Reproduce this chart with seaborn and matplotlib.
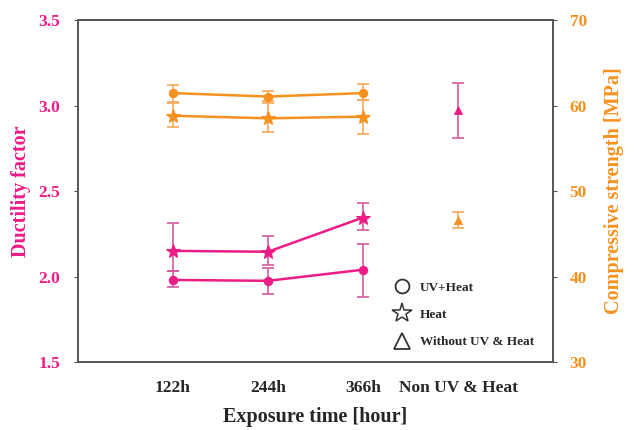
import numpy as np
import pandas as pd
import matplotlib
matplotlib.use("Agg")
import matplotlib.pyplot as plt
import seaborn as sns
from matplotlib.lines import Line2D

# --- data ---
categories = ["122h", "244h", "366h", "Non UV & Heat"]
exposed = ["122h", "244h", "366h"]

# ductility factor (left axis)
duct_uvheat = [1.98, 1.975, 2.04]
duct_uvheat_lo = [1.94, 1.90, 1.88]
duct_uvheat_hi = [2.03, 2.05, 2.19]
duct_heat = [2.15, 2.145, 2.345]
duct_heat_lo = [2.03, 2.07, 2.27]
duct_heat_hi = [2.315, 2.235, 2.43]
duct_none = [2.975]
duct_none_lo = [2.81]
duct_none_hi = [3.13]

# compressive strength (right axis)
comp_uvheat = [61.45, 61.05, 61.45]
comp_uvheat_lo = [60.4, 60.3, 60.6]
comp_uvheat_hi = [62.4, 61.75, 62.5]
comp_heat = [58.8, 58.5, 58.7]
comp_heat_lo = [57.45, 56.95, 56.7]
comp_heat_hi = [60.35, 60.55, 60.7]
comp_none = [46.6]
comp_none_lo = [45.7]
comp_none_hi = [47.6]

PINK = "#ec1c86"
PINK_ERR = "#d45aa0"
ORANGE = "#f7911e"
ORANGE_ERR = "#f5a95a"

sns.set_style("white")
plt.rcParams["font.family"] = ["Liberation Serif", "DejaVu Serif"]
plt.rcParams["font.weight"] = "bold"

fig = plt.figure(figsize=(6.35, 4.3), dpi=100)
ax = fig.add_axes([0.1228, 0.158, 0.7481, 0.7955])
ax2 = ax.twinx()

pos = {c: i for i, c in enumerate(categories)}


def draw(axis, cats, vals, lo, hi, marker, color, ecolor, ms, line=True):
    x = [pos[c] for c in cats]
    df = pd.DataFrame({"x": x, "y": vals})
    v = np.array(vals)
    yerr = [v - np.array(lo), np.array(hi) - v]
    axis.errorbar(x, vals, yerr=yerr, fmt="none", ecolor=ecolor,
                  elinewidth=1.2, capsize=4, capthick=1.2, zorder=2)
    if line:
        sns.lineplot(data=df, x="x", y="y", ax=axis, color=color, lw=1.8,
                     marker=marker, markersize=ms, markeredgecolor=color,
                     legend=False, zorder=3)
    else:
        sns.scatterplot(data=df, x="x", y="y", ax=axis, color=color,
                        marker=marker, s=ms ** 2, edgecolor=color,
                        legend=False, zorder=3)


draw(ax, exposed, duct_uvheat, duct_uvheat_lo, duct_uvheat_hi, "o", PINK, PINK_ERR, 6)
draw(ax, exposed, duct_heat, duct_heat_lo, duct_heat_hi, "*", PINK, PINK_ERR, 10)
draw(ax, ["Non UV & Heat"], duct_none, duct_none_lo, duct_none_hi, "^", PINK, PINK_ERR, 6, line=False)

draw(ax2, exposed, comp_uvheat, comp_uvheat_lo, comp_uvheat_hi, "o", ORANGE, ORANGE_ERR, 6)
draw(ax2, exposed, comp_heat, comp_heat_lo, comp_heat_hi, "*", ORANGE, ORANGE_ERR, 10)
draw(ax2, ["Non UV & Heat"], comp_none, comp_none_lo, comp_none_hi, "^", ORANGE, ORANGE_ERR, 6, line=False)

ax.set_xlim(-1, 4)
ax.set_ylim(1.5, 3.5)
ax2.set_ylim(30, 70)
ax.set_xticks(range(len(categories)))
ax.set_xticklabels(categories)
ax.set_yticks([1.5, 2.0, 2.5, 3.0, 3.5])
ax.set_yticklabels(["1.5", "2.0", "2.5", "3.0", "3.5"])
ax2.set_yticks([30, 40, 50, 60, 70])

ax.set_xlabel("Exposure time [hour]", fontsize=14.5, fontweight="bold", labelpad=8)
ax.set_ylabel("Ductility factor", fontsize=14.5, fontweight="bold", color=PINK, labelpad=5)
ax2.set_ylabel("Compressive strength [MPa]", fontsize=14.5, fontweight="bold", color=ORANGE, labelpad=12)

for a in (ax, ax2):
    for s in a.spines.values():
        s.set_color("#555555")
        s.set_linewidth(1.2)

ax.tick_params(axis="x", direction="out", length=3, color="#555555", labelsize=12.5, pad=10)
ax.tick_params(axis="y", direction="out", length=3, color="#555555", labelsize=12.5,
               labelcolor=PINK, pad=10)
ax2.tick_params(axis="y", direction="out", length=3, color="#555555", labelsize=12.5,
                labelcolor=ORANGE, pad=9)
for lab in ax.get_xticklabels() + ax.get_yticklabels() + ax2.get_yticklabels():
    lab.set_fontweight("bold")

handles = [
    Line2D([], [], ls="none", marker="o", mfc="none", mec="#333333", ms=10, mew=1.3),
    Line2D([], [], ls="none", marker="*", mfc="none", mec="#333333", ms=15, mew=1.1),
    Line2D([], [], ls="none", marker="^", mfc="none", mec="#333333", ms=11, mew=1.3),
]
ax.legend(handles, ["UV+Heat", "Heat", "Without UV & Heat"], loc="lower right",
          bbox_to_anchor=(0.985, 0.005), frameon=False, prop={"size": 9.5, "weight": "bold"},
          handletextpad=0.7, labelspacing=1.15, handlelength=1.3)

plt.savefig("out.png", dpi=100)
plt.close()
